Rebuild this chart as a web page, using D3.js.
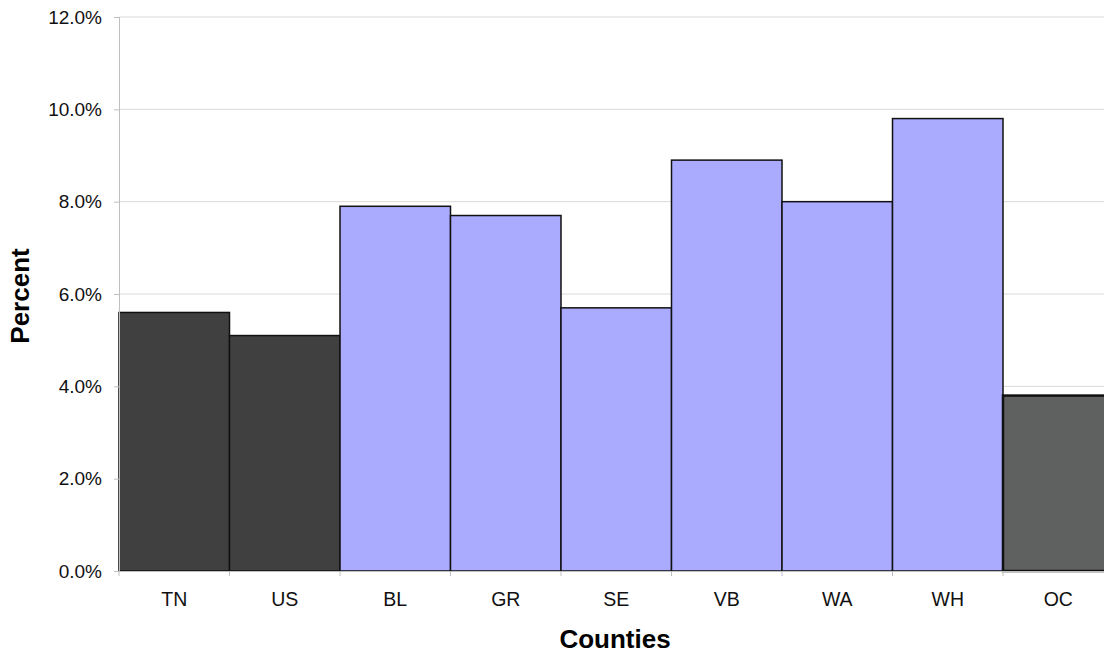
<!DOCTYPE html>
<html>
<head>
<meta charset="utf-8">
<script src="https://cdn.jsdelivr.net/npm/d3@7"></script>
<style>
  html, body { margin: 0; padding: 0; background: #fff; }
  svg { display: block; font-family: Arial, "Liberation Sans", sans-serif; }
</style>
</head>
<body>
<svg id="chart" width="1104" height="654"></svg>
<script>
// Percent by county
const counties = ["TN", "US", "BL", "GR", "SE", "VB", "WA", "WH", "OC"];
const percents = [5.6, 5.1, 7.9, 7.7, 5.7, 8.9, 8.0, 9.8, 3.8];
const groups   = ["ref", "ref", "county", "county", "county", "county", "county", "county", "other"];
const yTicks   = [0, 2, 4, 6, 8, 10, 12];

const fills = { ref: "#404040", county: "#aaaaff", other: "#5f6160" };
const strokeW = { ref: 1.5, county: 1.5, other: 2.5 };

const svg = d3.select("#chart");
const plotLeft = 119, bandW = 110.5, plotTop = 17, plotBottom = 571;

const x = d3.scaleBand()
  .domain(counties)
  .range([plotLeft, plotLeft + bandW * counties.length])
  .padding(0);

const y = d3.scaleLinear().domain([0, 12]).range([plotBottom, plotTop]);

// horizontal gridlines
svg.append("g")
  .selectAll("line")
  .data(yTicks.filter(d => d > 0))
  .join("line")
  .attr("x1", plotLeft).attr("x2", 1104)
  .attr("y1", d => y(d)).attr("y2", d => y(d))
  .attr("stroke", "#d9d9d9").attr("stroke-width", 1);

// bars
svg.append("g")
  .selectAll("rect")
  .data(counties)
  .join("rect")
  .attr("x", d => x(d))
  .attr("y", (d, i) => y(percents[i]))
  .attr("width", x.bandwidth())
  .attr("height", (d, i) => y(0) - y(percents[i]))
  .attr("fill", (d, i) => fills[groups[i]])
  .attr("stroke", "#111")
  .attr("stroke-width", (d, i) => strokeW[groups[i]]);

// y axis
const yAxis = svg.append("g")
  .attr("transform", `translate(${plotLeft},0)`)
  .call(d3.axisLeft(y).tickValues(yTicks).tickSize(5).tickPadding(12)
    .tickFormat(d => d.toFixed(1) + "%"));
yAxis.select(".domain").attr("stroke", "#bfbfbf");
yAxis.selectAll(".tick line").attr("stroke", "#bfbfbf");
yAxis.selectAll(".tick text")
  .attr("fill", "#111").attr("font-size", "19px")
  .attr("font-family", "Arial, 'Liberation Sans', sans-serif");

// x axis
const xAxis = svg.append("g")
  .attr("transform", `translate(0,${plotBottom})`)
  .call(d3.axisBottom(x).tickSize(0).tickPadding(21));
xAxis.select(".domain").attr("stroke", "#bfbfbf");
xAxis.selectAll(".tick text")
  .attr("fill", "#111").attr("font-size", "19.5px")
  .attr("font-family", "Arial, 'Liberation Sans', sans-serif");

// tick marks on band boundaries
const bounds = counties.map(d => x(d)).concat([x(counties[counties.length - 1]) + x.bandwidth()]);
svg.append("g")
  .selectAll("line")
  .data(bounds)
  .join("line")
  .attr("x1", d => d).attr("x2", d => d)
  .attr("y1", plotBottom).attr("y2", plotBottom + 5)
  .attr("stroke", "#bfbfbf");

// axis titles
svg.append("text")
  .attr("x", 615).attr("y", 648)
  .attr("text-anchor", "middle")
  .attr("font-weight", "bold").attr("font-size", "26px").attr("fill", "#000")
  .text("Counties");

svg.append("text")
  .attr("transform", "translate(29,296) rotate(-90)")
  .attr("text-anchor", "middle")
  .attr("font-weight", "bold").attr("font-size", "26px").attr("fill", "#000")
  .text("Percent");
</script>
</body>
</html>
